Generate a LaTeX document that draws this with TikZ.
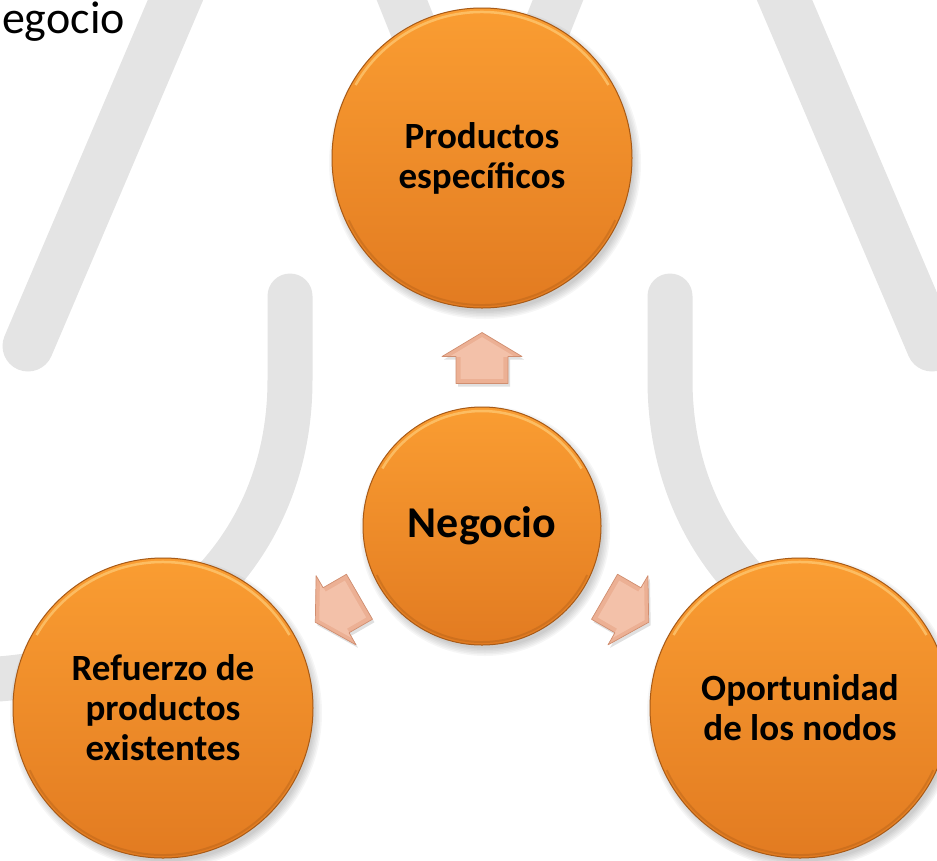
\documentclass[tikz,border=0pt]{standalone}
\usepackage{fontspec}
\setmainfont{Carlito}
\usetikzlibrary{calc}
\definecolor{wm}{RGB}{228,228,228}
\definecolor{orTop}{RGB}{250,157,50}
\definecolor{orBot}{RGB}{226,123,33}
\definecolor{orRim}{RGB}{168,90,22}
\definecolor{orHi}{RGB}{255,208,125}
\definecolor{pch}{RGB}{236,176,148}
\definecolor{pchIn}{RGB}{243,193,169}
\definecolor{pchRim}{RGB}{208,142,112}
\begin{document}
\begin{tikzpicture}[x=1pt,y=1pt,
  wmline/.style={draw=wm, line cap=round},
  ball/.style={circle, inner sep=0pt, top color=orTop, bottom color=orBot,
    draw=orRim, line width=1pt, align=center, text=black,
    font=\bfseries\fontsize{37}{40}\selectfont},
  hilite/.style={draw=orHi, line width=2.5pt, opacity=0.65},
  lowrim/.style={draw=orRim, line width=2pt, opacity=0.35},
  shadowfill/.style={fill=black, opacity=0.035}
]
\useasboundingbox (0,0) rectangle (937,-860);
\clip (0,0) rectangle (937,-860);

% watermark strokes
\draw[wmline, line width=51] (184,20) -- (28,-346);
\draw[wmline, line width=51] (776,20) -- (932,-346);
\draw[wmline, line width=47] (394,20) -- (454,-130);
\draw[wmline, line width=47] (566,20) -- (506,-130);
\draw[wmline, line width=45] (290,-296) -- (290,-380) .. controls (290,-560) and (150,-680) .. (-30,-680);
\draw[wmline, line width=45] (670,-296) -- (670,-380) .. controls (670,-560) and (810,-680) .. (990,-680);

% title fragment
\node[anchor=base east, font=\fontsize{46}{50}\selectfont, inner sep=0pt] (title) at (125,-33) {Negocio};

% soft shadows
\foreach \x/\y/\r in {482/-158/150, 482/-526/119, 163/-708/150, 800/-708/150}{
  \foreach \k in {0,...,5}{
    \fill[shadowfill] (\x+3,\y-5) circle ({\r+6-1.5*\k});
  }
}

% circles
\node[ball, minimum size=300pt] (top) at (482,-158) {Productos\\específicos};
\node[ball, minimum size=238pt, font=\bfseries\fontsize{44}{48}\selectfont] (neg) at (482,-526) {Negocio};
\node[ball, minimum size=300pt] (lft) at (163,-708) {Refuerzo de\\productos\\existentes};
\node[ball, minimum size=300pt] (rgt) at (800,-708) {Oportunidad\\de los nodos};

% bevel highlights
\foreach \n/\r in {top/146, lft/146, rgt/146, neg/115}{
  \draw[hilite] ($(\n)+(30:\r)$) arc (30:150:\r);
  \draw[lowrim] ($(\n)+(205:\r+1)$) arc (205:335:\r+1);
}

% block arrows
\coordinate (aU) at ($(neg)+(90:168)$);
\coordinate (aL) at ($(neg)+(210:167)$);
\coordinate (aR) at ($(neg)+(330:167)$);
\foreach \p/\a in {aU/0, aL/120, aR/-120}{
  \begin{scope}[shift={($(\p)+(2,-3)$)}, rotate=\a]
    \fill[black, opacity=0.12] (0,25.5) -- (40,1.5) -- (26,1.5) -- (26,-25.5) -- (-26,-25.5) -- (-26,1.5) -- (-40,1.5) -- cycle;
  \end{scope}
  \begin{scope}[shift={(\p)}, rotate=\a]
    \fill[pch] (0,25.5) -- (40,1.5) -- (26,1.5) -- (26,-25.5) -- (-26,-25.5) -- (-26,1.5) -- (-40,1.5) -- cycle;
    \fill[pchIn, scale=0.82] (0,25.5) -- (40,1.5) -- (26,1.5) -- (26,-25.5) -- (-26,-25.5) -- (-26,1.5) -- (-40,1.5) -- cycle;
    \draw[pchRim, line width=0.7pt, line join=round] (0,25.5) -- (40,1.5) -- (26,1.5) -- (26,-25.5) -- (-26,-25.5) -- (-26,1.5) -- (-40,1.5) -- cycle;
  \end{scope}
}
\end{tikzpicture}
\end{document}
